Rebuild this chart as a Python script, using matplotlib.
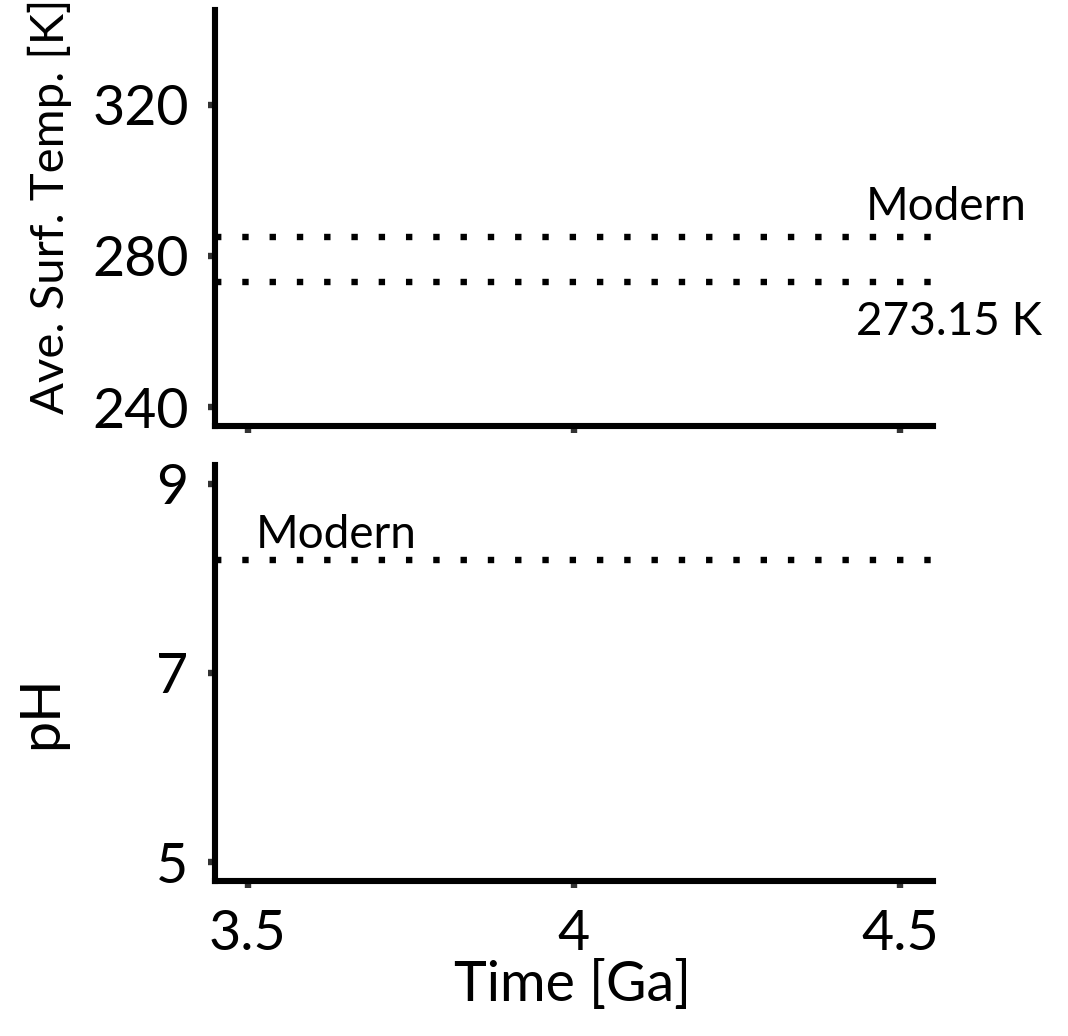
import matplotlib
matplotlib.use("Agg")
import matplotlib.pyplot as plt

plt.rcParams["font.family"] = ["Lato", "DejaVu Sans"]

# Axis ranges and ticks
time_ticks = [3.5, 4, 4.5]
time_tick_labels = ["3.5", "4", "4.5"]
time_lim = (3.45, 4.55)

temp_ticks = [240, 280, 320]
temp_lim = (235, 345)

ph_ticks = [5, 7, 9]
ph_lim = (4.8, 9.2)

# Reference levels
temp_modern = 285.0
temp_freezing = 273.15
ph_modern = 8.2

W, H = 1068, 1036
fig = plt.figure(figsize=(W / 100, H / 100), dpi=100)

def px_axes(x0, y0, x1, y1):
    """Axes from pixel box (left, top, right, bottom)."""
    return fig.add_axes([x0 / W, 1 - y1 / H, (x1 - x0) / W, (y1 - y0) / H])

ax_t = px_axes(215, 10, 933, 426)
ax_p = px_axes(215, 465, 933, 881)

spine_lw = 4.4
tick_kw = dict(length=5, width=4.6, color="#333333", labelsize=40,
               labelcolor="black", pad=14)
dot_style = dict(color="black", lw=4.6, linestyle=(0, (1, 3.27)),
                 dash_capstyle="butt")

for ax in (ax_t, ax_p):
    ax.set_xlim(*time_lim)
    ax.set_xticks(time_ticks)
    for s in ("top", "right"):
        ax.spines[s].set_visible(False)
    for s in ("left", "bottom"):
        ax.spines[s].set_linewidth(spine_lw)
        ax.spines[s].set_color("black")
    ax.tick_params(axis="both", **tick_kw)
    ax.patch.set_visible(False)

# Temperature panel
ax_t.set_ylim(*temp_lim)
ax_t.set_yticks(temp_ticks)
ax_t.set_xticklabels([])
ax_t.axhline(temp_modern, **dot_style)
ax_t.axhline(temp_freezing, **dot_style)
ax_t.text(4.57, 289.5, "Modern", fontsize=33, ha="center", va="baseline",
          clip_on=False)
ax_t.text(4.575, 259.1, "273.15 K", fontsize=33, ha="center", va="baseline",
          clip_on=False)

# pH panel
ax_p.set_ylim(*ph_lim)
ax_p.set_yticks(ph_ticks)
ax_p.set_xticklabels(time_tick_labels)
ax_p.tick_params(axis="x", pad=15)
ax_p.axhline(ph_modern, **dot_style)
ax_p.text(3.635, 8.32, "Modern", fontsize=33, ha="center", va="baseline")

# Axis titles
fig.text(50 / W, 1 - 206 / H, "Ave. Surf. Temp. [K]", fontsize=34,
         rotation=90, ha="center", va="center")
fig.text(42 / W, 1 - 712 / H, "pH", fontsize=40, rotation=90,
         ha="center", va="center")
fig.text(572 / W, 1 - 1001 / H, "Time [Ga]", fontsize=40,
         ha="center", va="baseline")

fig.savefig("out.png", dpi=100)
